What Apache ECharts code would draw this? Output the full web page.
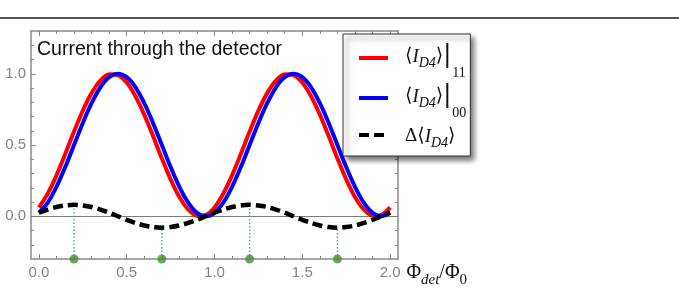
<!DOCTYPE html>
<html lang="en">
<head>
  <meta charset="UTF-8">
  <title>Current through the detector</title>
  <style>
    html, body { margin: 0; padding: 0; background: #fff; }
  </style>
</head>
<body>
  <div id="main" style="width: 679px;height:294px;"></div>
  <script src="https://cdn.jsdelivr.net/npm/echarts@6/dist/echarts.min.js"></script>
  <script type="text/javascript">
    // flux values Phi_det / Phi_0
    var phi = [0.00, 0.05, 0.10, 0.15, 0.20, 0.25, 0.30, 0.35, 0.40, 0.45,
               0.50, 0.55, 0.60, 0.65, 0.70, 0.75, 0.80, 0.85, 0.90, 0.95,
               1.00, 1.05, 1.10, 1.15, 1.20, 1.25, 1.30, 1.35, 1.40, 1.45,
               1.50, 1.55, 1.60, 1.65, 1.70, 1.75, 1.80, 1.85, 1.90, 1.95, 2.00];
    // <I_D4>|11 (red)
    var current11 = [0.062, 0.158, 0.287, 0.437, 0.594, 0.741, 0.864, 0.952, 0.996, 0.991,
                     0.938, 0.842, 0.713, 0.563, 0.406, 0.259, 0.135, 0.048, 0.004, 0.009,
                     0.062, 0.158, 0.287, 0.437, 0.594, 0.741, 0.864, 0.952, 0.996, 0.991,
                     0.938, 0.842, 0.713, 0.563, 0.406, 0.259, 0.135, 0.048, 0.004, 0.009, 0.062];
    // <I_D4>|00 (blue)
    var current00 = [0.024, 0.095, 0.206, 0.345, 0.500, 0.655, 0.794, 0.905, 0.976, 1.000,
                     0.976, 0.905, 0.794, 0.655, 0.500, 0.345, 0.206, 0.095, 0.024, 0.000,
                     0.024, 0.095, 0.206, 0.345, 0.500, 0.655, 0.794, 0.905, 0.976, 1.000,
                     0.976, 0.905, 0.794, 0.655, 0.500, 0.345, 0.206, 0.095, 0.024, 0.000, 0.024];
    // Delta <I_D4> (black dashed)
    var deltaCurrent = [0.025, 0.047, 0.065, 0.076, 0.080, 0.076, 0.065, 0.047, 0.025, 0.000,
                        -0.025, -0.047, -0.065, -0.076, -0.080, -0.076, -0.065, -0.047, -0.025, 0.000,
                        0.025, 0.047, 0.065, 0.076, 0.080, 0.076, 0.065, 0.047, 0.025, 0.000,
                        -0.025, -0.047, -0.065, -0.076, -0.080, -0.076, -0.065, -0.047, -0.025, 0.000, 0.025];
    // operating points (green dots) and the delta extremes they point at
    var markerPhi = [0.2, 0.7, 1.2, 1.7];
    var markerDelta = [0.08, -0.08, 0.08, -0.08];

    var xMajor = [0, 0.5, 1, 1.5, 2];
    var xMinor = [0, 0.1, 0.2, 0.3, 0.4, 0.5, 0.6, 0.7, 0.8, 0.9, 1, 1.1, 1.2, 1.3, 1.4, 1.5, 1.6, 1.7, 1.8, 1.9, 2];
    var yMajor = [0, 0.5, 1];
    var yMinor = [-0.2, -0.1, 0, 0.1, 0.2, 0.3, 0.4, 0.5, 0.6, 0.7, 0.8, 0.9, 1, 1.1, 1.2];

    var myChart = echarts.init(document.getElementById('main'));

    var frameColor = '#8a8a8a';
    var serif = '"Liberation Serif", "DejaVu Serif", serif';

    function pairs(ys) {
      return phi.map(function (x, i) { return [x, ys[i]]; });
    }

    function xAxisDef(pos, major) {
      return {
        type: 'value', position: pos, min: -0.045, max: 2.045, gridIndex: 0,
        axisLine: { show: major, onZero: false, lineStyle: { color: frameColor, width: 1.5 } },
        axisTick: { show: true, inside: true, length: major ? 5 : 3, customValues: major ? xMajor : xMinor,
                    lineStyle: { color: frameColor, width: 1 } },
        axisLabel: { show: major && pos === 'bottom', customValues: xMajor, margin: 6,
                     color: '#858585', fontSize: 15, fontFamily: 'Liberation Sans',
                     formatter: function (v) { return v.toFixed(1); } },
        splitLine: { show: false }
      };
    }

    function yAxisDef(pos, major) {
      return {
        type: 'value', position: pos, min: -0.3, max: 1.3, gridIndex: 0,
        axisLine: { show: major, onZero: false, lineStyle: { color: frameColor, width: 1.5 } },
        axisTick: { show: true, inside: true, length: major ? 5 : 3, customValues: major ? yMajor : yMinor,
                    lineStyle: { color: frameColor, width: 1 } },
        axisLabel: { show: major && pos === 'left', customValues: yMajor, margin: 5,
                     color: '#858585', fontSize: 15, fontFamily: 'Liberation Sans',
                     formatter: function (v) { return v.toFixed(1); } },
        splitLine: { show: false }
      };
    }

    var xName = xAxisDef('bottom', true);
    xName.name = '{a|Φ}{s|det}{a|/Φ}{z|0}';
    xName.nameLocation = 'end';
    xName.nameGap = 6;
    xName.nameTextStyle = {
      verticalAlign: 'top', padding: [4, 0, 0, 0],
      rich: {
        a: { fontFamily: serif, fontSize: 20, color: '#111', lineHeight: 22, verticalAlign: 'top' },
        s: { fontFamily: serif, fontStyle: 'italic', fontSize: 15, color: '#111', lineHeight: 15, verticalAlign: 'top', padding: [10, 0, 0, 0] },
        z: { fontFamily: serif, fontSize: 15, color: '#111', lineHeight: 15, verticalAlign: 'top', padding: [10, 0, 0, 0] }
      }
    };

    var legendRich = {
      t: { fontFamily: serif, fontSize: 19, color: '#111', lineHeight: 22, verticalAlign: 'top', padding: [3, 0, 0, 0] },
      i: { fontFamily: serif, fontStyle: 'italic', fontSize: 19, color: '#111', lineHeight: 22, verticalAlign: 'top', padding: [3, 0, 0, 0] },
      d: { fontFamily: serif, fontStyle: 'italic', fontSize: 14, color: '#111', lineHeight: 14, verticalAlign: 'top', padding: [12, 0, 0, 0] },
      bar: { fontFamily: 'DejaVu Sans', fontSize: 24, color: '#111', lineHeight: 28, verticalAlign: 'top' },
      n: { fontFamily: serif, fontSize: 14, color: '#111', lineHeight: 14, verticalAlign: 'top', padding: [22, 0, 0, 1] }
    };

    var legendText = {
      'I11': '{t|⟨}{i|I}{d|D4}{t|⟩}{bar||}{n|11}',
      'I00': '{t|⟨}{i|I}{d|D4}{t|⟩}{bar||}{n|00}',
      'dI': '{t|Δ⟨}{i|I}{d|D4}{t|⟩}'
    };

    var option = {
      animation: false,
      title: {
        text: 'Current through the detector',
        left: 37, top: 40, padding: 0,
        textStyle: { fontSize: 19.5, fontWeight: 'normal', color: '#111', fontFamily: 'Liberation Sans' }
      },
      graphic: [{
        type: 'line', shape: { x1: 0, y1: 18, x2: 679, y2: 18 },
        style: { stroke: '#222', lineWidth: 1.5 }
      }],
      grid: { left: 31, top: 31, right: 281, bottom: 35, containLabel: false },
      legend: {
        orient: 'vertical', left: 343, top: 34,
        padding: [10, 4, 6, 14],
        itemWidth: 29, itemHeight: 14, itemGap: 4,
        backgroundColor: '#fff', borderColor: '#333', borderWidth: 1,
        shadowBlur: 5, shadowColor: 'rgba(0,0,0,0.55)', shadowOffsetX: 4, shadowOffsetY: 4,
        itemStyle: { opacity: 0 },
        lineStyle: { width: 4 },
        data: ['I11', 'I00', 'dI'],
        formatter: function (name) { return legendText[name]; },
        textStyle: { padding: [0, 0, 0, 12], rich: legendRich }
      },
      xAxis: [xName, xAxisDef('top', true), xAxisDef('bottom', false), xAxisDef('top', false)],
      yAxis: [yAxisDef('left', true), yAxisDef('right', true), yAxisDef('left', false), yAxisDef('right', false)],
      series: [
        {
          name: 'I11', type: 'line', data: pairs(current11), smooth: 0.3, symbol: 'none',
          lineStyle: { color: '#ff0000', width: 4 }, itemStyle: { color: '#ff0000' }, z: 3
        },
        {
          name: 'I00', type: 'line', data: pairs(current00), smooth: 0.3, symbol: 'none',
          lineStyle: { color: '#0000ff', width: 4 }, itemStyle: { color: '#0000ff' }, z: 3
        },
        {
          name: 'dI', type: 'line', data: pairs(deltaCurrent), smooth: 0.3, symbol: 'none',
          lineStyle: { color: '#000', width: 4.5, type: [10, 5] }, itemStyle: { color: '#000' }, z: 4,
          markLine: {
            silent: true, symbol: 'none', label: { show: false },
            lineStyle: { color: '#7a7a7a', width: 1, type: 'solid' },
            data: [{ yAxis: 0 }], z: 1
          }
        },
        {
          name: 'guides', type: 'custom', z: 2,
          data: markerPhi.map(function (x, i) { return [x, markerDelta[i]]; }),
          renderItem: function (params, api) {
            var top = api.coord([api.value(0), api.value(1)]);
            var bottom = api.coord([api.value(0), -0.3]);
            return {
              type: 'line',
              shape: { x1: bottom[0], y1: bottom[1], x2: top[0], y2: top[1] },
              style: { stroke: '#22b59a', lineWidth: 1.3, lineDash: [1.5, 2] }
            };
          }
        },
        {
          name: 'points', type: 'scatter', z: 5, clip: false,
          data: markerPhi.map(function (x) { return [x, -0.3]; }),
          symbolSize: 9, itemStyle: { color: '#4f8a35' }
        }
      ]
    };

    myChart.setOption(option);
  </script>
</body>
</html>
